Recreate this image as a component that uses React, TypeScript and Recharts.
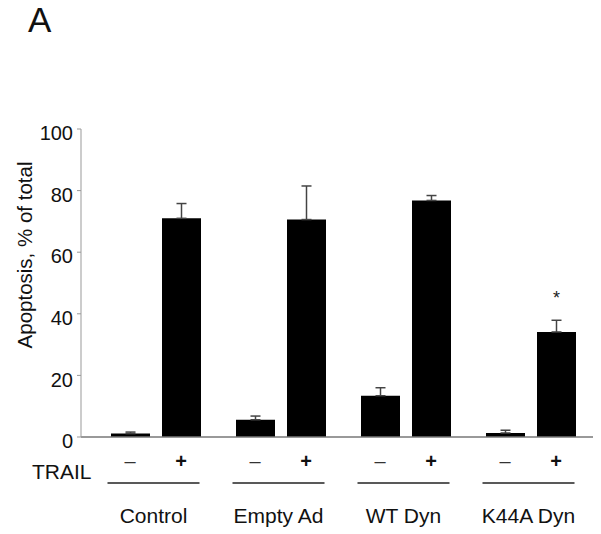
import { BarChart, Bar, XAxis, YAxis, ErrorBar, LabelList } from 'recharts'

const groups = ['Control', 'Empty Ad', 'WT Dyn', 'K44A Dyn']
const noTrail = [1.1, 5.6, 13.4, 1.3]
const noTrailErr = [0.5, 1.2, 2.6, 0.9]
const withTrail = [71.0, 70.6, 76.8, 34.1]
const withTrailErr = [4.8, 10.9, 1.6, 3.8]
const marks = ['', '', '', '*']
const yTicks = [0, 20, 40, 60, 80, 100]
const signs = ['\u2013', '+']

const FONT = '"Liberation Sans", Arial, sans-serif'

const data = groups.map((g, i) => ({
  group: g,
  minus: noTrail[i],
  minusErr: [0, noTrailErr[i]],
  plus: withTrail[i],
  plusErr: [0, withTrailErr[i]],
  mark: marks[i],
}))

// category tick: -/+ under each bar, a rule, then the group name
function GroupTick(props: any) {
  const { x, y, payload, index } = props
  const half = 25.5
  return (
    <g fontFamily={FONT} fill="#111">
      {index === 0 && (
        <text x={x - 64} y={y + 42} textAnchor="end" fontSize={21} fill="#111">
          TRAIL
        </text>
      )}
      <text x={x - half} y={y + 31} textAnchor="middle" fontSize={20} fill="#333">
        {signs[0]}
      </text>
      <text x={x + half} y={y + 31} textAnchor="middle" fontSize={20} fill="#111" fontWeight="bold">
        {signs[1]}
      </text>
      <line x1={x - 48} x2={x + 44} y1={y + 46} y2={y + 46} stroke="#222" strokeWidth={1.5} />
      <text x={x - 2} y={y + 86} textAnchor="middle" fontSize={21} fill="#111">
        {payload.value}
      </text>
    </g>
  )
}

function YTitle(props: any) {
  const cx = 24
  const cy = 255
  return (
    <text
      x={cx}
      y={cy}
      transform={`rotate(-90, ${cx}, ${cy})`}
      textAnchor="middle"
      dominantBaseline="central"
      fontFamily={FONT}
      fontSize={20.5}
      fill="#111"
    >
      Apoptosis, % of total
    </text>
  )
}

export default function App() {
  return (
    <div style={{ position: 'absolute', left: 0, top: 0, width: 601, height: 534, background: '#fff' }}>
      <svg width={80} height={50} style={{ position: 'absolute', left: 0, top: 0 }}>
        <text x={28} y={32} fontFamily={FONT} fontSize={35} fill="#111">
          A
        </text>
      </svg>
      <BarChart
        width={601}
        height={534}
        data={data}
        margin={{ top: 129, right: 8, left: 0, bottom: 0 }}
        barSize={39}
        barGap={12}
      >
        <XAxis
          dataKey="group"
          axisLine={{ stroke: '#777', strokeWidth: 1.5 }}
          tickLine={false}
          tickSize={0}
          tickMargin={0}
          height={97}
          interval={0}
          padding={{ left: 12, right: 0 }}
          tick={<GroupTick />}
        />
        <YAxis
          width={81}
          domain={[0, 100]}
          ticks={yTicks}
          axisLine={{ stroke: '#999', strokeWidth: 1 }}
          tickLine={{ stroke: '#999' }}
          tickSize={4}
          tickMargin={4}
          tick={{ fill: '#111', fontSize: 20, fontFamily: FONT, dy: 4 }}
          label={<YTitle />}
        />
        <Bar dataKey="minus" fill="#000" isAnimationActive={false}>
          <ErrorBar dataKey="minusErr" stroke="#444" strokeWidth={1.5} width={5} direction="y" />
        </Bar>
        <Bar dataKey="plus" fill="#000" isAnimationActive={false}>
          <ErrorBar dataKey="plusErr" stroke="#444" strokeWidth={1.5} width={5} direction="y" />
          <LabelList dataKey="mark" position="top" offset={28} fontSize={18} fill="#222" fontFamily={FONT} />
        </Bar>
      </BarChart>
    </div>
  )
}
